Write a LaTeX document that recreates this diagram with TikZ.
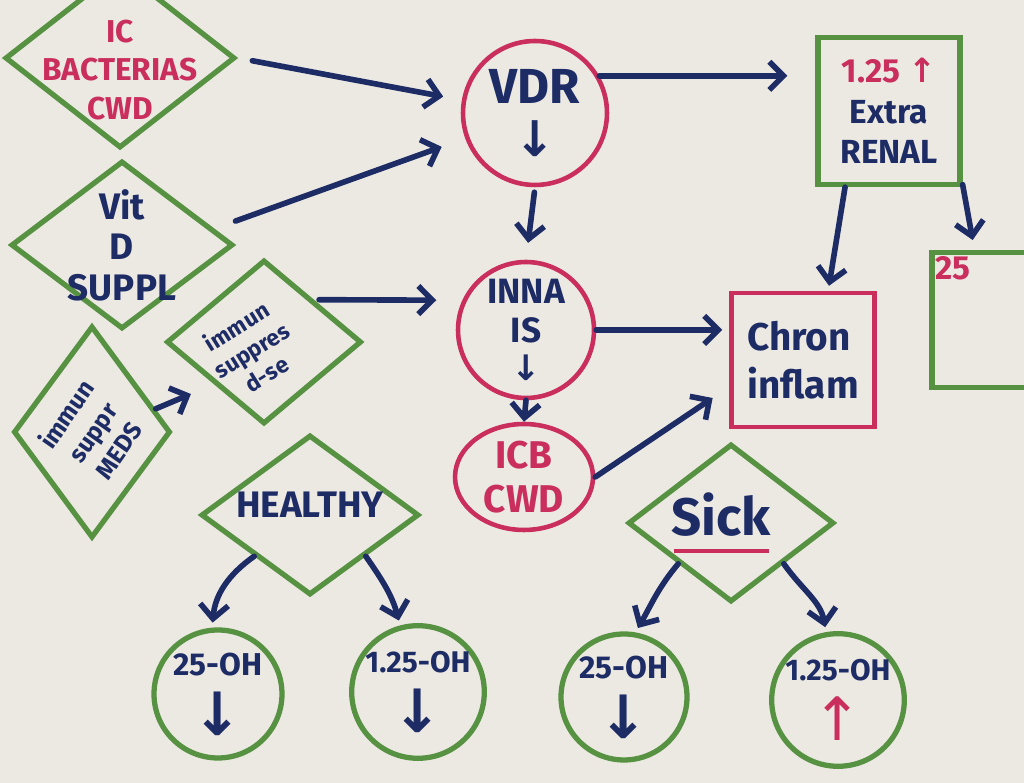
\documentclass[tikz,border=0pt]{standalone}
\usepackage{fontspec}
\setmainfont{Fira Sans}
\newfontfamily\arrowfont{DejaVu Sans}
\usetikzlibrary{shapes.geometric,arrows.meta}
\definecolor{canvas}{RGB}{236,233,227}
\definecolor{pengreen}{RGB}{86,146,66}
\definecolor{penred}{RGB}{201,46,92}
\definecolor{penblue}{RGB}{30,44,102}
\newcommand\hw[2]{\fontsize{#1}{#2}\selectfont\bfseries}
\tikzset{
  dia/.style={diamond, draw=pengreen, line width=3pt, inner sep=0pt},
  gbox/.style={rectangle, draw=pengreen, line width=3pt},
  rcirc/.style={circle, draw=penred, line width=2.6pt, inner sep=0pt, text=penblue, align=center},
  gcirc/.style={circle, draw=pengreen, line width=3pt, inner sep=0pt, text=penblue, align=center},
  arr/.style={draw=penblue, line width=3.2pt, line cap=round, -{Straight Barb[length=8pt,width=16pt]}}
}
\begin{document}
\begin{tikzpicture}[x=0.02cm,y=0.02cm]
            \fill[canvas] (0,0) rectangle (1024,783);
            \useasboundingbox (0,0) rectangle (1024,783);
            \clip (0,0) rectangle (1024,783);

            \node[dia, minimum width=4.6cm, minimum height=3.6cm, label={[font=\hw{18}{22}, text=penred, align=center, yshift=-0.24cm]center:{IC\\BACTERIAS\\CWD}}] (ICb) at (120,725) {};
            \node[dia, minimum width=4.44cm, minimum height=3.36cm, label={[font=\hw{21}{23}, text=penblue, align=center]center:{Vit\\D\\SUPPL}}] (VitD) at (122,538) {};
            \node[dia, minimum width=3.14cm, minimum height=4.24cm, label={[font=\hw{14}{18}, text=penblue, align=center, rotate=55]center:{immun\\suppr\\MEDS}}] (meds) at (92,351) {};
            \node[dia, minimum width=3.9cm, minimum height=3.28cm, label={[font=\hw{13}{16}, text=penblue, align=center, rotate=32, xshift=-0.3cm]center:{immun\\suppres\\d-se}}] (dse) at (264,441) {};

            \node[rcirc, minimum size=2.88cm, font=\hw{28}{30}] (VDR) at (535,670) {VDR\\{\arrowfont ↓}};
            \node[rcirc, minimum size=2.72cm, font=\hw{20}{22}] (INNA) at (526,453) {INNA\\IS\\{\arrowfont ↓}};
            \node[ellipse, draw=penred, line width=2.6pt, inner sep=0pt, minimum width=2.76cm, minimum height=2.12cm, text=penred, align=center, font=\hw{22}{25}] (ICB) at (524,306) {ICB\\CWD};

            \node[gbox, minimum width=2.84cm, minimum height=2.94cm, text=penblue, align=center, font=\hw{19}{23}] (renal) at (889,672) {{\color{penred}1.25 {\arrowfont ↑}}\\Extra\\RENAL};
            \node[gbox, minimum width=2.72cm, minimum height=2.7cm] (box25) at (1000,463) {};
            \node[anchor=north west, text=penred, font=\hw{19}{20}] (num25) at (box25.north west) {25};
            \node[rectangle, draw=penred, line width=2.6pt, minimum width=2.86cm, minimum height=2.68cm, text=penblue, align=left, font=\hw{22}{27}] (chron) at (803,423) {Chron\\inflam};

            \node[dia, minimum width=4.36cm, minimum height=3.2cm, label={[font=\hw{21}{22}, text=penblue, yshift=0.2cm]center:HEALTHY}] (healthy) at (310,268) {};
            \node[dia, minimum width=4.12cm, minimum height=3.16cm, label={[font=\hw{30}{26}, text=penblue, align=center, xshift=-0.2cm]center:{Sick\\[-16pt]{\color{penred}\rule{1.9cm}{2.5pt}}}}] (sick) at (731,260) {};

            \node[gcirc, minimum size=2.56cm, font=\hw{18}{24}] (ohA) at (218,89) {25-OH\\[8pt]{\arrowfont\fontsize{34}{34}\selectfont ↓}};
            \node[gcirc, minimum size=2.48cm, font=\hw{17}{24}] (ohB) at (418,91) {1.25-OH\\[8pt]{\arrowfont\fontsize{34}{34}\selectfont ↓}};
            \node[gcirc, minimum size=2.52cm, font=\hw{18}{24}] (ohC) at (624,86) {25-OH\\[8pt]{\arrowfont\fontsize{34}{34}\selectfont ↓}};
            \node[gcirc, minimum size=2.56cm, font=\hw{17}{24}] (ohD) at (838,83) {1.25-OH\\[8pt]{\color{penred}\arrowfont\mdseries\fontsize{34}{34}\selectfont ↑}};

            \draw[arr, shorten <=0.3cm, shorten >=0.38cm] (ICb.east) to (VDR.170); \draw[arr, shorten <=0.45cm, shorten >=0.5cm] (VitD.10) to (VDR.200);
            \draw[arr, shorten <=0.1cm, shorten >=0.52cm] (dse.north east) to (INNA.155); \draw[arr, shorten >=0.5cm] (meds.20) to (dse.south west);
            \draw[arr, shorten <=0.1cm, shorten >=0.34cm] (VDR.south) to (INNA.north); \draw[arr] (INNA.south) to (ICB.north);
            \draw[arr, shorten >=0.56cm] (VDR.30) to (VDR.30 -| renal.west); \draw[arr, shorten >=0.14cm] (INNA.east) to (INNA.east -| chron.west);
            \draw[arr, shorten >=0.4cm] (ICB.east) to (chron.200);
            \draw[arr, shorten >=0.1cm] (renal.-120) to (chron.70); \draw[arr, shorten >=0.2cm] (renal.-45) to (box25.110);
            \draw[arr, shorten >=0.1cm] (healthy.south west) to[out=215, in=85] (ohA.95); \draw[arr, shorten >=0.1cm] (healthy.south east) to[out=-55, in=105] (ohB.105);
            \draw[arr, shorten >=0.1cm] (sick.south west) to[out=230, in=60] (ohC.80); \draw[arr, shorten >=0.1cm] (sick.south east) to[out=-55, in=100] (ohD.100);
\end{tikzpicture}
\end{document}
